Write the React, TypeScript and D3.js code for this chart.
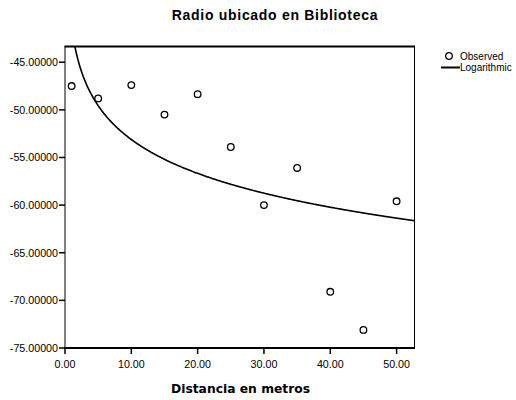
import React from "react";
import * as d3 from "d3";

const distances = [1, 5, 10, 15, 20, 25, 30, 35, 40, 45, 50];
const observed = [-47.5, -48.8, -47.4, -50.5, -48.35, -53.9, -60.0, -56.1, -69.1, -73.1, -59.6];
const xTicks = [0, 10, 20, 30, 40, 50];
const yTicks = [-45, -50, -55, -60, -65, -70, -75];
const title = "Radio ubicado en Biblioteca";
const xTitle = "Distancia en metros";
const legendLabels = ["Observed", "Logarithmic"];

const W = 516, H = 400;
const L = 65, R = 414.5, T = 46.5, B = 348;

function fitLog(xs: number[], ys: number[]) {
  const lx = xs.map(Math.log);
  const mx = d3.mean(lx)!, my = d3.mean(ys)!;
  let sxy = 0, sxx = 0;
  lx.forEach((v, i) => { sxy += (v - mx) * (ys[i] - my); sxx += (v - mx) ** 2; });
  const b1 = sxy / sxx;
  return { b0: my - b1 * mx, b1 };
}

export default function App() {
  const x = d3.scaleLinear().domain([0, 52.7]).range([L, R]);
  const y = d3.scaleLinear().domain([-75, -43.35]).range([B, T]);
  const { b0, b1 } = fitLog(distances, observed);
  const xs = d3.range(0.3, 52.7, 0.1).concat([52.7]);
  const pts = xs.map((v) => [v, b0 + b1 * Math.log(v)] as [number, number]);
  const line = d3.line<[number, number]>().x((d) => x(d[0])).y((d) => y(d[1]));
  const font = "Liberation Sans, Arial, sans-serif";
  return (
    <svg width={W} height={H} style={{ position: "absolute", left: 0, top: 0 }} fontFamily={font}>
      <rect width={W} height={H} fill="#fff" />
      <defs>
        <clipPath id="pc"><rect x={L} y={T} width={R - L} height={B - T} /></clipPath>
      </defs>
      <text x={275} y={20} textAnchor="middle" fontSize={14} fontWeight="bold" letterSpacing={0.7}>{title}</text>
      <path d={line(pts)!} fill="none" stroke="#000" strokeWidth={1.6} clipPath="url(#pc)" />
      {distances.map((d, i) => (
        <circle key={i} cx={x(d)} cy={y(observed[i])} r={3.3} fill="#fff" stroke="#000" strokeWidth={1.3} />
      ))}
      <line x1={L} x2={L} y1={T} y2={B} stroke="#000" strokeWidth={1} />
      <line x1={R} x2={R} y1={T} y2={B} stroke="#000" strokeWidth={1} />
      <line x1={L - 0.5} x2={R + 0.5} y1={T} y2={T} stroke="#000" strokeWidth={2} />
      <line x1={L - 0.5} x2={R + 0.5} y1={B} y2={B} stroke="#000" strokeWidth={2} />
      {yTicks.map((t) => (
        <g key={t}>
          <line x1={L - 6} x2={L} y1={y(t)} y2={y(t)} stroke="#000" strokeWidth={1.5} />
          <text x={L - 7} y={y(t) + 4} textAnchor="end" fontSize={10.7}>{t.toFixed(5)}</text>
        </g>
      ))}
      {xTicks.map((t) => (
        <g key={t}>
          <line x1={x(t)} x2={x(t)} y1={B} y2={B + 6} stroke="#000" strokeWidth={1.5} />
          <text x={x(t)} y={B + 19.5} textAnchor="middle" fontSize={10.7}>{t.toFixed(2)}</text>
        </g>
      ))}
      <text x={240.5} y={393} textAnchor="middle" fontSize={12.3} fontWeight="bold" fontFamily="DejaVu Sans, sans-serif">{xTitle}</text>
      <circle cx={449} cy={56} r={3.3} fill="#fff" stroke="#000" strokeWidth={1.3} />
      <text x={460} y={59.5} fontSize={10}>{legendLabels[0]}</text>
      <line x1={441} x2={460} y1={67.5} y2={67.5} stroke="#000" strokeWidth={2} />
      <text x={460} y={71} fontSize={10}>{legendLabels[1]}</text>
    </svg>
  );
}
